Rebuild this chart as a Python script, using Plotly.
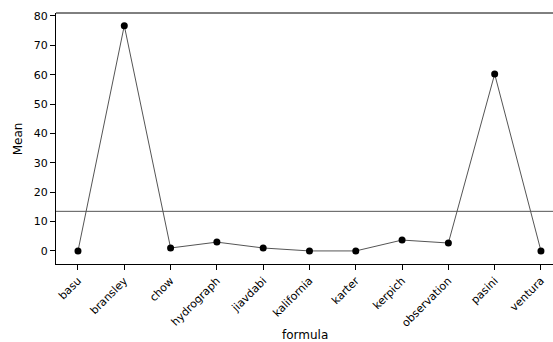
import plotly.graph_objects as go

categories = ["basu", "bransley", "chow", "hydrograph", "jiavdabi", "kalifornia",
              "karter", "kerpich", "observation", "pasini", "ventura"]
means = [0.0, 76.7, 1.0, 3.0, 1.0, 0.0, 0.0, 3.7, 2.7, 60.2, 0.0]
overall_mean = sum(means) / len(means)
y_ticks = [0, 10, 20, 30, 40, 50, 60, 70, 80]

FONT = "DejaVu Sans"

fig = go.Figure()
fig.add_trace(go.Scatter(
    x=list(range(len(categories))), y=means, mode="lines+markers",
    line=dict(color="#555555", width=1),
    marker=dict(color="black", size=7),
    showlegend=False,
))

fig.update_layout(
    width=553, height=342,
    margin=dict(l=56, r=0, t=13, b=78),
    plot_bgcolor="white", paper_bgcolor="white",
    font=dict(family=FONT, size=11, color="black"),
    xaxis=dict(
        tickmode="array", tickvals=list(range(len(categories))), ticktext=categories,
        tickangle=-45, range=[-0.475, 10.26], automargin=False,
        showgrid=False, zeroline=False,
        showline=True, linecolor="black", linewidth=1, mirror=False,
        ticks="outside", ticklen=5, tickcolor="black",
    ),
    yaxis=dict(
        tickvals=y_ticks, range=[-4.45, 81.0], automargin=False,
        showgrid=False, zeroline=False,
        showline=True, linecolor="black", linewidth=1,
        ticks="outside", ticklen=5, tickcolor="black",
    ),
    shapes=[
        dict(type="line", xref="paper", yref="paper", x0=0, x1=1, y0=1, y1=1,
             line=dict(color="black", width=1)),
        dict(type="line", xref="paper", yref="y", x0=0, x1=1,
             y0=overall_mean, y1=overall_mean,
             line=dict(color="#555555", width=1)),
    ],
    annotations=[
        dict(text="formula", xref="paper", yref="paper", x=0.5, y=-0.283,
             xanchor="center", yanchor="middle", showarrow=False,
             font=dict(family=FONT, size=12)),
        dict(text="Mean", xref="paper", yref="paper", x=-0.077, y=0.5,
             xanchor="center", yanchor="middle", showarrow=False, textangle=-90,
             font=dict(family=FONT, size=12)),
    ],
)

fig.write_html("out.html", config={"displayModeBar": False},
               post_script="document.body.style.margin='0';document.body.style.overflow='hidden';")
